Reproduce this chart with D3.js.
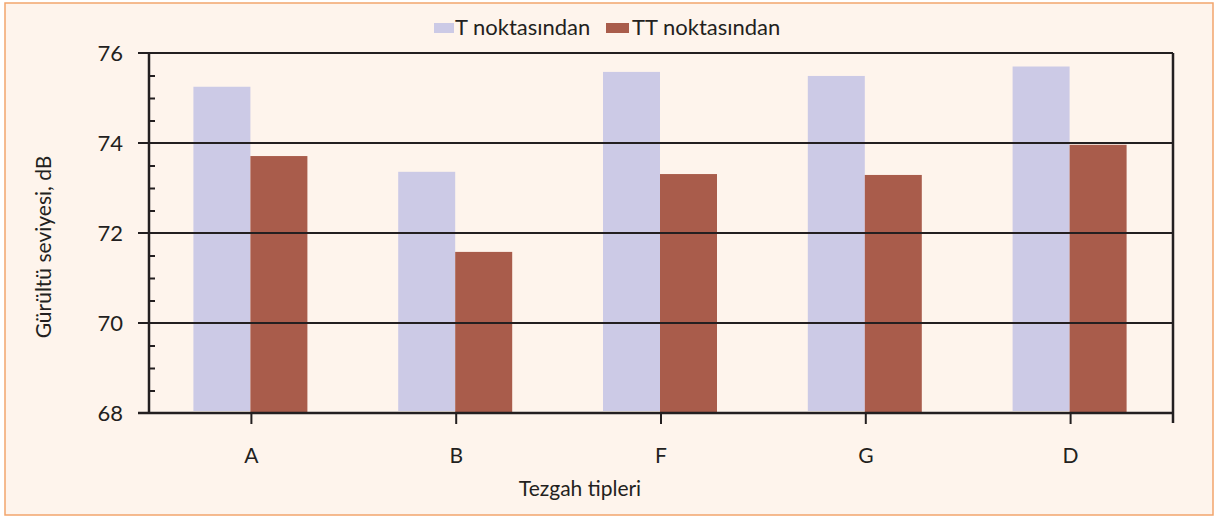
<!DOCTYPE html>
<html>
<head>
<meta charset="utf-8">
<title>Gürültü seviyesi</title>
<script src="https://d3js.org/d3.v7.min.js"></script>
<style>
    body { margin: 0; background: #ffffff; }
    svg text { font-family: Lato, "Open Sans", sans-serif; fill: #231f20; }
</style>
</head>
<body>
<div id="chart"></div>
<script>
    // data
    var categories = ["A", "B", "F", "G", "D"];
    var seriesNames = ["T noktasından", "TT noktasından"];
    var tValues = [75.25, 73.36, 75.58, 75.49, 75.70];
    var ttValues = [73.71, 71.58, 73.31, 73.29, 73.96];
    var yTicks = [68, 70, 72, 74, 76];
    var colors = ["#cccae6", "#a95c4b"];

    var W = 1215, H = 518;
    var margin = { top: 53, right: 42, bottom: 105, left: 149 },
        width = W - margin.left - margin.right,
        height = H - margin.top - margin.bottom;

    var svg = d3.select("#chart").append("svg")
        .attr("width", W)
        .attr("height", H);

    // background + orange frame
    svg.append("rect")
        .attr("x", 5).attr("y", 3)
        .attr("width", 1208).attr("height", 512)
        .attr("fill", "#fef4ec")
        .attr("stroke", "#f2a56c")
        .attr("stroke-width", 1.5);

    var g = svg.append("g")
        .attr("transform", "translate(" + margin.left + "," + margin.top + ")");

    var x = d3.scaleBand().domain(categories).range([0, width]);
    var x1 = d3.scaleBand().domain(seriesNames).range([-58, 56]);
    var y = d3.scaleLinear().domain([68, 76]).range([height, 0]);

    var rows = categories.map(function (c, i) {
        return { cat: c, values: [tValues[i], ttValues[i]] };
    });

    // bars
    var groups = g.selectAll(".grp")
        .data(rows)
        .enter().append("g")
        .attr("transform", function (d) { return "translate(" + (x(d.cat) + x.bandwidth() / 2) + ",0)"; });

    groups.selectAll("rect")
        .data(function (d) { return d.values.map(function (v, j) { return { name: seriesNames[j], v: v, j: j }; }); })
        .enter().append("rect")
        .attr("x", function (d) { return x1(d.name); })
        .attr("width", x1.bandwidth())
        .attr("y", function (d) { return y(d.v); })
        .attr("height", function (d) { return y(68) - y(d.v) - (d.j === 0 ? 2 : 0); })
        .attr("fill", function (d) { return colors[d.j]; });

    // gridlines (drawn over bars)
    g.selectAll(".grid")
        .data(yTicks.filter(function (t) { return t > 68; }))
        .enter().append("line")
        .attr("x1", -11).attr("x2", width)
        .attr("y1", function (d) { return y(d); })
        .attr("y2", function (d) { return y(d); })
        .attr("stroke", "#231f20")
        .attr("stroke-width", 2);

    // y axis: minor ticks inside
    var yAxis = d3.axisRight(y)
        .tickValues(d3.range(68, 76.01, 0.5).filter(function (t) { return t % 2 !== 0; }))
        .tickSize(6)
        .tickFormat("");
    var ya = g.append("g").call(yAxis);
    ya.select(".domain").remove();
    ya.selectAll("line").attr("stroke", "#231f20").attr("stroke-width", 2);

    g.append("line")
        .attr("x1", 0).attr("x2", 0).attr("y1", 0).attr("y2", height)
        .attr("stroke", "#231f20").attr("stroke-width", 2.5);

    // y labels
    g.selectAll(".ylab")
        .data(yTicks)
        .enter().append("text")
        .attr("x", -26)
        .attr("y", function (d) { return y(d); })
        .attr("dy", "0.36em")
        .attr("text-anchor", "end")
        .style("font-size", "22px")
        .text(function (d) { return d; });

    // bottom axis
    g.append("line")
        .attr("x1", -11).attr("x2", width).attr("y1", height).attr("y2", height)
        .attr("stroke", "#231f20").attr("stroke-width", 2.5);
    g.selectAll(".xtick")
        .data(categories)
        .enter().append("line")
        .attr("x1", function (d) { return x(d) + x.bandwidth() / 2; })
        .attr("x2", function (d) { return x(d) + x.bandwidth() / 2; })
        .attr("y1", height).attr("y2", height + 11)
        .attr("stroke", "#231f20").attr("stroke-width", 2);
    g.selectAll(".xlab")
        .data(categories)
        .enter().append("text")
        .attr("x", function (d) { return x(d) + x.bandwidth() / 2; })
        .attr("y", height + 50)
        .attr("text-anchor", "middle")
        .style("font-size", "21px")
        .text(function (d) { return d; });

    // right frame of plot
    g.append("line")
        .attr("x1", width).attr("x2", width).attr("y1", 0).attr("y2", height + 10)
        .attr("stroke", "#231f20").attr("stroke-width", 2.5);

    // axis titles
    g.append("text")
        .attr("x", width / 2 - 81)
        .attr("y", height + 83)
        .attr("text-anchor", "middle")
        .style("font-size", "21px")
        .text("Tezgah tipleri");

    svg.append("text")
        .attr("transform", "translate(51,247) rotate(-90)")
        .attr("text-anchor", "middle")
        .style("font-size", "21px")
        .text("Gürültü seviyesi, dB");

    // legend
    var legendX = [434, 606];
    var leg = svg.selectAll(".leg")
        .data(seriesNames)
        .enter().append("g")
        .attr("transform", function (d, i) { return "translate(" + legendX[i] + ",23)"; });
    leg.append("rect")
        .attr("width", function (d, i) { return i === 0 ? 20 : 23; })
        .attr("height", 10)
        .attr("fill", function (d, i) { return colors[i]; });
    leg.append("text")
        .attr("x", function (d, i) { return i === 0 ? 21 : 26; })
        .attr("y", 12)
        .style("font-size", "22px")
        .text(function (d) { return d; });
</script>
</body>
</html>
